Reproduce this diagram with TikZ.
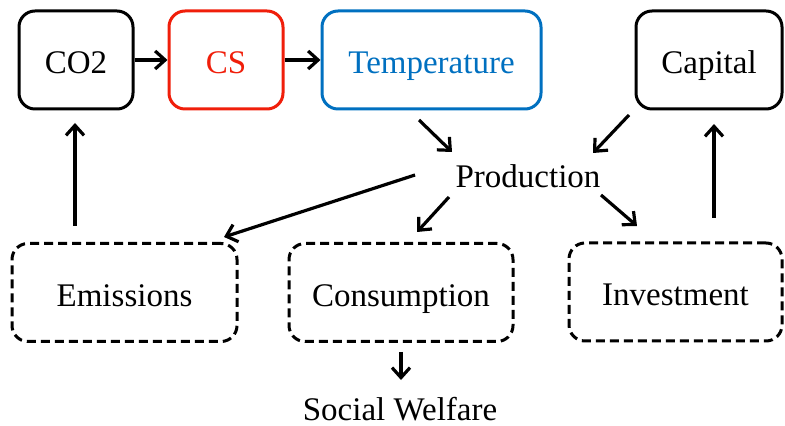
\documentclass[tikz,border=0pt]{standalone}
\usepackage{fontspec}
\setmainfont{Liberation Serif}
\usetikzlibrary{arrows.meta}
\definecolor{csred}{RGB}{240,30,10}
\definecolor{tempblue}{RGB}{0,112,192}
\tikzset{
  box/.style={draw, line width=1.5pt, rounded corners=8pt, inner sep=0pt,
    minimum height=49pt, text height=18pt, text depth=4pt},
  dbox/.style={box, dash pattern=on 4.5pt off 2.5pt},
  arr/.style={line width=1.6pt, -{Straight Barb[length=5pt,width=9pt]}},
}
\begin{document}
\begin{tikzpicture}[x=0.5pt,y=-0.5pt,font=\fontsize{16.5}{20}\selectfont]
  \useasboundingbox (0,0) rectangle (785,426);
  \draw
    (76,60) node[box, minimum width=57pt] (co2){CO2}
    (226,60) node[box, draw=csred, text=csred, minimum width=57pt] (cs){CS}
    (431.5,60) node[box, draw=tempblue, text=tempblue, minimum width=109.5pt] (temp){Temperature}
    (709,60) node[box, minimum width=73pt] (capital){Capital}
    (528,176) node (prod){Production}
    (124.5,292.5) node[dbox, minimum width=112.5pt] (emis){Emissions}
    (401,292.5) node[dbox, minimum width=112pt] (cons){Consumption}
    (675.5,292) node[dbox, minimum width=106.5pt] (invest){Investment}
    (400,409) node (welfare){Social Welfare};
  \begin{scope}[arr]
    \draw (co2) to (cs);
    \draw (cs) to (temp);
    \draw ([shift={(-12.5,60)}]temp.center) to ([shift={(-76,-24)}]prod.center);
    \draw ([shift={(-80,55)}]capital.center) to ([shift={(65,-23)}]prod.center);
    \draw ([shift={(-113,-1)}]prod.center) to ([shift={(99.5,-55.5)}]emis.center);
    \draw ([shift={(-79,21)}]prod.center) to ([shift={(16,-60.5)}]cons.center);
    \draw ([shift={(73,19)}]prod.center) to ([shift={(-38.5,-66)}]invest.center);
    \draw ([shift={(-49.5,-66.5)}]emis.center) to ([shift={(-1,63)}]co2.center);
    \draw ([shift={(38.5,-74)}]invest.center) to ([shift={(5,64)}]capital.center);
    \draw ([shift={(0,59.5)}]cons.center) to ([shift={(1,-29)}]welfare.center);
  \end{scope}
\end{tikzpicture}
\end{document}
